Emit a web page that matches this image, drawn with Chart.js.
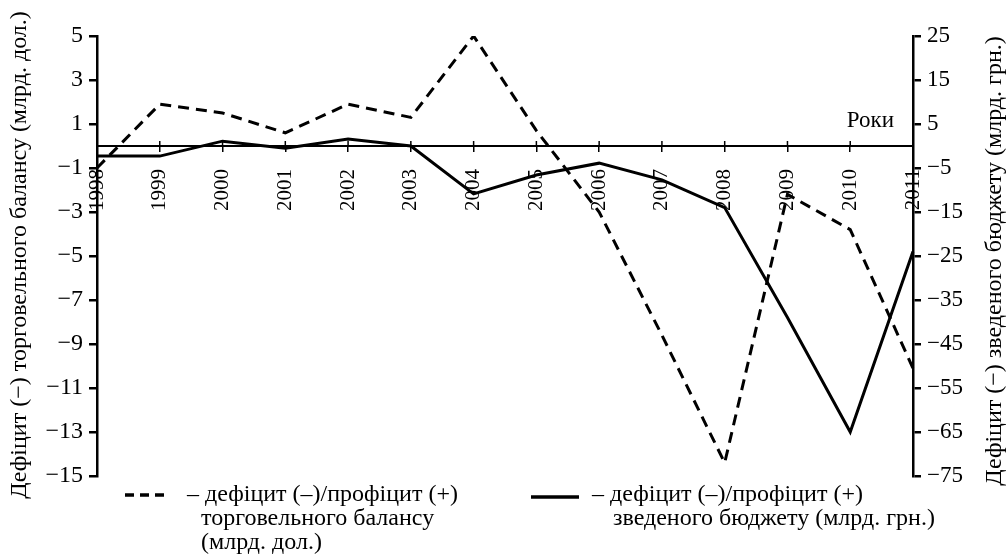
<!DOCTYPE html>
<html>
<head>
<meta charset="utf-8">
<title>Дефіцит торговельного балансу та зведеного бюджету</title>
<script src="https://cdn.jsdelivr.net/npm/chart.js@4.4.1/dist/chart.umd.min.js"></script>
<style>
  html, body { margin: 0; padding: 0; background: #fff; }
  #wrap { width: 1007px; height: 558px; position: relative; }
</style>
</head>
<body>
<div id="wrap"><canvas id="chart"></canvas></div>
<script>
'use strict';

let canvasElem = document.getElementById('chart');

// years on the x axis
let years = ['1998', '1999', '2000', '2001', '2002', '2003', '2004',
  '2005', '2006', '2007', '2008', '2009', '2010', '2011'];

// trade balance, bn USD (left axis, dashed)
let tradeBalance = [-1.0, 1.9, 1.5, 0.6, 1.9, 1.3, 5.0,
  0.7, -3.0, -8.6, -14.4, -2.2, -3.8, -10.1];

// consolidated budget, bn UAH (right axis, solid)
let budgetBalance = [-2.3, -2.3, 1.1, -0.5, 1.6, 0.0, -10.9,
  -6.6, -3.9, -7.7, -14.0, -39.0, -65.0, -24.0];

let leftTicks = [5, 3, 1, -1, -3, -5, -7, -9, -11, -13, -15];
let rightTicks = [25, 15, 5, -5, -15, -25, -35, -45, -55, -65, -75];

let leftTitle = 'Дефіцит (−) торговельного балансу (млрд. дол.)';
let rightTitle = 'Дефіцит (−) зведеного бюджету (млрд. грн.)';
let yearsLabel = 'Роки';
let legendTrade = ['– дефіцит (–)/профіцит (+)', 'торговельного балансу', '(млрд. дол.)'];
let legendBudget = ['– дефіцит (–)/профіцит (+)', 'зведеного бюджету (млрд. грн.)'];

const FONT = '"Liberation Serif", "Times New Roman", serif';

function minus(v) {
  return String(v).replace('-', '−');
}

// titles, "Роки", tick crosses above the axis and the legend
let extras = {
  id: 'extras',
  afterDraw(chart) {
    let ctx = chart.ctx;
    let area = chart.chartArea;
    let x = chart.scales.x;
    let zero = chart.scales.y.getPixelForValue(0);
    ctx.save();
    ctx.fillStyle = '#000';
    ctx.strokeStyle = '#000';

    // upper half of x tick marks
    ctx.lineWidth = 1.5;
    for (let i = 1; i < years.length - 1; i++) {
      let px = x.getPixelForTick(i);
      ctx.beginPath();
      ctx.moveTo(px, zero - 5);
      ctx.lineTo(px, zero);
      ctx.stroke();
    }

    ctx.font = '23px ' + FONT;
    ctx.textAlign = 'right';
    ctx.textBaseline = 'alphabetic';
    ctx.fillText(yearsLabel, area.right - 19, zero - 19);

    // axis titles, both read bottom to top
    ctx.font = '24px ' + FONT;
    ctx.textAlign = 'center';
    ctx.textBaseline = 'middle';
    ctx.save();
    ctx.translate(20, (area.top + area.bottom) / 2 - 1);
    ctx.rotate(-Math.PI / 2);
    ctx.fillText(leftTitle, 0, 0);
    ctx.restore();
    ctx.save();
    ctx.translate(chart.width - 12, (area.top + area.bottom) / 2 + 5);
    ctx.rotate(-Math.PI / 2);
    ctx.fillText(rightTitle, 0, 0);
    ctx.restore();

    // legend
    let ly = area.bottom + 19;
    ctx.lineWidth = 3.5;
    ctx.setLineDash([9, 6]);
    ctx.beginPath();
    ctx.moveTo(area.left + 28, ly);
    ctx.lineTo(area.left + 68, ly);
    ctx.stroke();
    ctx.setLineDash([]);
    ctx.beginPath();
    ctx.moveTo(area.left + 434, ly + 2);
    ctx.lineTo(area.left + 482, ly + 2);
    ctx.stroke();

    ctx.font = '24px ' + FONT;
    ctx.textAlign = 'left';
    ctx.fillText(legendTrade[0], area.left + 90, ly);
    ctx.fillText(legendTrade[1], area.left + 104, ly + 24);
    ctx.fillText(legendTrade[2], area.left + 104, ly + 48);
    ctx.fillText(legendBudget[0], area.left + 495, ly);
    ctx.fillText(legendBudget[1], area.left + 516, ly + 24);
    ctx.restore();
  }
};

function renderChart() {
  let chartObj = {
    type: 'line',
    data: {
      labels: years,
      datasets: [{
        label: 'торговельний баланс',
        data: tradeBalance,
        yAxisID: 'y',
        borderColor: '#000',
        borderWidth: 3,
        borderDash: [11, 7],
        pointRadius: 0,
        tension: 0,
        fill: false
      },
      {
        label: 'зведений бюджет',
        data: budgetBalance,
        yAxisID: 'y1',
        borderColor: '#000',
        borderWidth: 3,
        pointRadius: 0,
        tension: 0,
        fill: false
      }]
    },
    options: {
      responsive: true,
      maintainAspectRatio: false,
      animation: false,
      layout: {
        padding: { top: 36, bottom: 82, left: 0, right: 0 }
      },
      plugins: {
        legend: { display: false },
        tooltip: { enabled: false },
        title: { display: false }
      },
      scales: {
        x: {
          type: 'category',
          position: { y: 0 },
          offset: false,
          grid: {
            drawOnChartArea: false,
            drawTicks: true,
            tickLength: 5,
            color: '#000',
            lineWidth: 1.5
          },
          border: { color: '#000', width: 2 },
          ticks: {
            autoSkip: false,
            minRotation: 90,
            maxRotation: 90,
            padding: 18,
            color: '#000',
            font: { family: FONT, size: 21 }
          }
        },
        y: {
          position: 'left',
          min: -15,
          max: 5,
          afterBuildTicks(scale) {
            scale.ticks = leftTicks.map(v => ({ value: v }));
          },
          afterFit(scale) {
            scale.width = 97;
          },
          grid: {
            drawOnChartArea: false,
            tickLength: 8,
            color: '#000',
            lineWidth: 2.5
          },
          border: { color: '#000', width: 2.5 },
          ticks: {
            color: '#000',
            padding: 6,
            font: { family: FONT, size: 24 },
            callback: v => minus(v)
          }
        },
        y1: {
          position: 'right',
          min: -75,
          max: 25,
          afterBuildTicks(scale) {
            scale.ticks = rightTicks.map(v => ({ value: v }));
          },
          afterFit(scale) {
            scale.width = 94;
          },
          grid: {
            drawOnChartArea: false,
            tickLength: 8,
            color: '#000',
            lineWidth: 2.5
          },
          border: { color: '#000', width: 2.5 },
          ticks: {
            color: '#000',
            padding: 6,
            font: { family: FONT, size: 23 },
            callback: v => minus(v)
          }
        }
      }
    },
    plugins: [extras]
  };
  new Chart(canvasElem, chartObj);
}

renderChart();
</script>
</body>
</html>
